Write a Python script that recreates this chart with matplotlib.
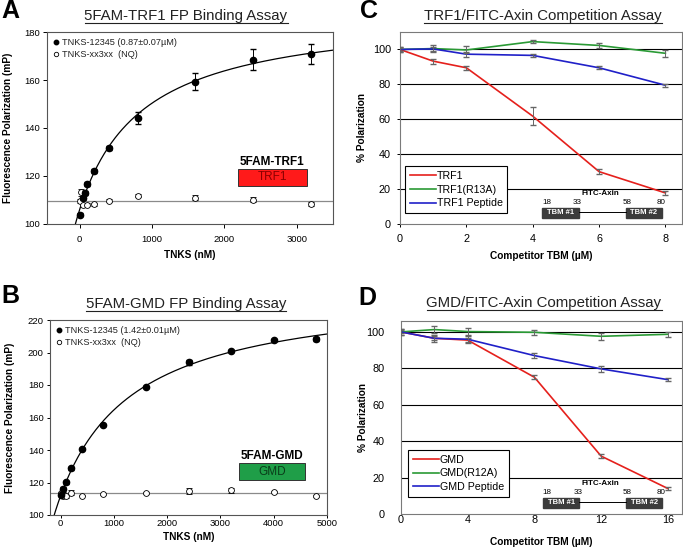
import matplotlib

matplotlib.use("Agg")

import matplotlib.pyplot as plt  # noqa: E402
import numpy as np  # noqa: E402
from matplotlib.lines import Line2D  # noqa: E402
from matplotlib.patches import Rectangle  # noqa: E402

plt.rcParams["font.family"] = ["Liberation Sans", "DejaVu Sans"]

W, H = 683, 548

# ---------------------------------------------------------------------------
# Data
# ---------------------------------------------------------------------------
# Panel A: 5FAM-TRF1 FP binding
A_BIND_X = [0, 50, 75, 100, 200, 400, 800, 1600, 2400, 3200]
A_BIND_Y = [103.8, 111.0, 112.8, 116.7, 122.0, 131.6, 144.0, 159.3, 168.5, 170.8]
A_BIND_ERR = [0.6, 0.8, 0.8, 0.8, 0.8, 0.8, 2.5, 3.5, 4.3, 4.2]
A_NQ_X = [0, 25, 50, 100, 200, 400, 800, 1600, 2400, 3200]
A_NQ_Y = [109.6, 113.2, 107.9, 108.0, 108.2, 109.7, 111.8, 111.0, 110.2, 108.3]
A_NQ_ERR = [0.8, 1.5, 0.6, 0.6, 0.6, 0.6, 0.6, 1.0, 1.0, 1.0]
A_KD_NM = 870
A_NQ_LEVEL = 109.7

# Panel B: 5FAM-GMD FP binding
B_BIND_X = [0, 50, 100, 200, 400, 800, 1600, 2400, 3200, 4000, 4800]
B_BIND_Y = [112.3, 115.7, 120.1, 128.8, 140.5, 155.5, 178.8, 194.0, 201.0, 207.8, 208.2]
B_BIND_ERR = [0.8, 1.5, 0.8, 0.8, 0.8, 0.8, 0.8, 1.5, 0.8, 0.8, 1.2]
B_NQ_X = [0, 50, 100, 200, 400, 800, 1600, 2400, 3200, 4000, 4800]
B_NQ_Y = [113.5, 112.0, 111.7, 113.7, 112.0, 113.2, 113.5, 115.0, 115.3, 114.3, 111.7]
B_NQ_ERR = [0.8, 0.8, 1.5, 1.5, 0.6, 0.6, 0.6, 1.8, 1.5, 0.6, 0.6]
B_KD_NM = 1420
B_NQ_LEVEL = 113.5

# Panel C: TRF1 / FITC-Axin competition
C_X = [0, 1, 2, 4, 6, 8]
C_TRF1 = [100, 93.3, 89.5, 61.8, 30.0, 17.8]
C_TRF1_ERR = [0.8, 1.5, 1.0, 5.0, 1.5, 1.0]
C_R13A = [100, 100.5, 99.7, 104.5, 102.3, 97.8]
C_R13A_ERR = [1.5, 2.0, 2.0, 1.0, 1.5, 2.0]
C_PEP = [100, 100.3, 97.3, 96.6, 89.5, 79.5]
C_PEP_ERR = [1.5, 1.0, 1.5, 0.8, 0.8, 0.8]

# Panel D: GMD / FITC-Axin competition
D_X = [0, 2, 4, 8, 12, 16]
D_GMD = [100, 96.5, 95.5, 75.1, 31.8, 14.0]
D_GMD_ERR = [0.8, 1.0, 1.0, 1.2, 1.2, 0.6]
D_R12A = [100, 101.3, 100.2, 99.8, 97.6, 98.7]
D_R12A_ERR = [1.5, 2.0, 2.0, 1.5, 2.0, 1.5]
D_PEP = [100, 96.5, 96.0, 87.0, 79.7, 73.8]
D_PEP_ERR = [1.5, 2.0, 2.0, 1.5, 1.5, 1.0]

AXIN_RESIDUES = ["18", "33", "58", "80"]

RED = "#e5201c"
GREEN = "#2a9a35"
BLUE = "#2020c8"


def px_axes(fig, l, t, r, b):
    return fig.add_axes([l / W, 1 - b / H, (r - l) / W, (b - t) / H])


def hyperbola_fit(x, y, kd):
    # one-site binding with fixed Kd: y = base + bmax * x / (kd + x)
    x = np.asarray(x, float)
    f = x / (kd + x)
    A = np.column_stack([np.ones_like(f), f])
    base, bmax = np.linalg.lstsq(A, np.asarray(y, float), rcond=None)[0]
    return base, bmax


def binding_panel(ax, bx, by, be, nx, ny, ne, kd, kd_label, nq_level,
                  xlim, ylim, xticks, yticks, tag, box_color, box_text_color,
                  box_x, box_y):
    base, bmax = hyperbola_fit(bx, by, kd)
    xs = np.linspace(xlim[0], xlim[1], 400)
    ax.plot(xs, base + bmax * xs / (kd + xs), color="black", lw=0.9, zorder=2)
    ax.axhline(nq_level, color="#8a8a8a", lw=0.9, zorder=1)
    ax.errorbar(nx, ny, yerr=ne, fmt="o", ms=4.2, mfc="white", mec="black",
                mew=0.6, ecolor="black", elinewidth=0.6, capsize=2, zorder=3)
    ax.errorbar(bx, by, yerr=be, fmt="o", ms=4.5, mfc="black", mec="black",
                ecolor="black", elinewidth=0.7, capsize=2, zorder=4)
    ax.set_xlim(*xlim)
    ax.set_ylim(*ylim)
    ax.set_xticks(xticks)
    ax.set_yticks(yticks)
    for s in ax.spines.values():
        s.set_color("#555555")
        s.set_linewidth(0.8)
    handles = [
        Line2D([], [], ls="none", marker="o", ms=3.2, mfc="black", mec="black"),
        Line2D([], [], ls="none", marker="o", ms=3.2, mfc="white", mec="black",
               mew=0.6),
    ]
    labels = [f"TNKS-12345 ({kd_label}\u00b5M)", "TNKS-xx3xx  (NQ)"]
    leg = ax.legend(handles, labels, loc="upper left", frameon=False,
                    fontsize=6.6, handlelength=0.5, handletextpad=0.4,
                    labelspacing=0.25, borderaxespad=0.3)
    for t in leg.get_texts():
        t.set_color("#222222")
    # probe label box
    ax.text(box_x + 0.12, box_y + 0.125, f"5FAM-{tag}", transform=ax.transAxes,
            ha="center", va="center", fontsize=8.5, fontweight="bold")
    ax.add_patch(Rectangle((box_x, box_y), 0.24, 0.085, transform=ax.transAxes,
                           facecolor=box_color, edgecolor="#333333", lw=0.7))
    ax.text(box_x + 0.12, box_y + 0.043, tag, transform=ax.transAxes,
            ha="center", va="center", fontsize=8.5, color=box_text_color)


def competition_panel(ax, x, series, xlim, ylim, xticks, legend_anchor):
    for y, e, color, label in series:
        ax.plot(x, y, color=color, lw=1.2, label=label, zorder=3)
        ax.errorbar(x, y, yerr=e, fmt="none", ecolor="#666666",
                    elinewidth=0.7, capsize=2.2, zorder=4)
    ax.set_xlim(*xlim)
    ax.set_ylim(*ylim)
    ax.set_xticks(xticks)
    ax.set_yticks(range(0, 101, 20))
    for yv in range(20, 101, 20):
        ax.axhline(yv, color="black", lw=0.8, zorder=1)
    for s in ax.spines.values():
        s.set_color("#7a7a7a")
        s.set_linewidth(0.8)
    leg = ax.legend(loc="lower left", bbox_to_anchor=legend_anchor,
                    borderaxespad=0, fontsize=7.7, handlelength=2.4,
                    handletextpad=0.1, labelspacing=0.35, fancybox=False,
                    framealpha=1, edgecolor="black", borderpad=0.45)
    leg.get_frame().set_linewidth(0.8)
    leg.set_zorder(5)
    # FITC-Axin construct diagram
    tr = ax.transAxes
    for x0, x1 in [(0.505, 0.635), (0.80, 0.93)]:
        ax.add_patch(Rectangle((x0, 0.033), x1 - x0, 0.05, transform=tr,
                               facecolor="#3c3c3c", edgecolor="#3c3c3c",
                               zorder=6))
    ax.add_line(Line2D([0.635, 0.80], [0.062, 0.062], transform=tr,
                       color="black", lw=0.7, zorder=6))
    ax.text(0.57, 0.058, "TBM #1", transform=tr, ha="center", va="center",
            fontsize=5.5, color="white", fontweight="bold", zorder=7)
    ax.text(0.865, 0.058, "TBM #2", transform=tr, ha="center", va="center",
            fontsize=5.5, color="white", fontweight="bold", zorder=7)
    for xp, lab in zip([0.52, 0.63, 0.805, 0.925], AXIN_RESIDUES):
        ax.text(xp, 0.112, lab, transform=tr, ha="center", va="center",
                fontsize=5.8, zorder=7)
    ax.text(0.71, 0.16, "FITC-Axin", transform=tr, ha="center", va="center",
            fontsize=5.8, fontweight="bold", zorder=7)


fig = plt.figure(figsize=(W / 100, H / 100), dpi=100)

axA = px_axes(fig, 47, 32, 333, 224)
axB = px_axes(fig, 50, 320, 327, 515)
axC = px_axes(fig, 400, 32, 682, 224)
axD = px_axes(fig, 401, 321, 682, 514)

binding_panel(axA, A_BIND_X, A_BIND_Y, A_BIND_ERR, A_NQ_X, A_NQ_Y, A_NQ_ERR,
              A_KD_NM, "0.87\u00b10.07", A_NQ_LEVEL, (-450, 3500), (100, 180),
              [0, 1000, 2000, 3000], range(100, 181, 20), "TRF1",
              "#ff1a1a", "#8b0000", 0.668, 0.2)
binding_panel(axB, B_BIND_X, B_BIND_Y, B_BIND_ERR, B_NQ_X, B_NQ_Y, B_NQ_ERR,
              B_KD_NM, "1.42\u00b10.01", B_NQ_LEVEL, (-200, 5000), (100, 220),
              range(0, 5001, 1000), range(100, 221, 20), "GMD",
              "#1f9e48", "#0a3d1a", 0.682, 0.18)

competition_panel(axC, C_X, [(C_TRF1, C_TRF1_ERR, RED, "TRF1"),
                             (C_R13A, C_R13A_ERR, GREEN, "TRF1(R13A)"),
                             (C_PEP, C_PEP_ERR, BLUE, "TRF1 Peptide")],
                  (0, 8.5), (0, 110), range(0, 9, 2), (0.018, 0.057))
competition_panel(axD, D_X, [(D_GMD, D_GMD_ERR, RED, "GMD"),
                             (D_R12A, D_R12A_ERR, GREEN, "GMD(R12A)"),
                             (D_PEP, D_PEP_ERR, BLUE, "GMD Peptide")],
                  (0, 16.85), (0, 106), range(0, 17, 4), (0.025, 0.088))

# ticks and axis labels
axA.tick_params(labelsize=6.8, length=3, width=0.7, pad=2)
axA.tick_params(axis="x", pad=5)
axB.tick_params(labelsize=6.8, length=2, width=0.7, pad=2.5)
axB.tick_params(axis="x", pad=1)
axC.tick_params(labelsize=7.8, length=2.5, width=0.7, pad=4)
axC.tick_params(axis="x", pad=5)
axD.tick_params(labelsize=7.8, length=0, width=0.7, pad=12)
axD.tick_params(axis="x", pad=1)

lab_kw = dict(fontsize=7.3, fontweight="bold")
for ax, xl, yl, ylx, xly in [
    (axA, "TNKS (nM)", "Fluorescence Polarization (mP)", -0.119, -0.135),
    (axB, "TNKS (nM)", "Fluorescence Polarization (mP)", -0.126, -0.087),
    (axC, "Competitor TBM (\u00b5M)", "% Polarization", -0.117, -0.14),
    (axD, "Competitor TBM (\u00b5M)", "% Polarization", -0.117, -0.119),
]:
    ax.set_xlabel(xl, **lab_kw)
    ax.set_ylabel(yl, **lab_kw)
    ax.yaxis.set_label_coords(ylx, 0.5)
    ax.xaxis.set_label_coords(0.5, xly)

# panel letters
for x, y, s in [(1, 18, "A"), (360, 18, "C"), (1, 303, "B"), (358, 305, "D")]:
    fig.text(x / W, 1 - y / H, s, fontsize=18, fontweight="bold",
             va="baseline", ha="left")

# underlined titles
titles = []
for x, y, s in [(186, 16, "5FAM-TRF1 FP Binding Assay"),
                (543, 16, "TRF1/FITC-Axin Competition Assay"),
                (186, 304, "5FAM-GMD FP Binding Assay"),
                (544, 303, "GMD/FITC-Axin Competition Assay")]:
    titles.append(fig.text(x / W, 1 - y / H, s, fontsize=10.8, ha="center",
                           va="center", color="#222222"))
fig.canvas.draw()
renderer = fig.canvas.get_renderer()
for t in titles:
    bb = t.get_window_extent(renderer)
    yline = (bb.y0 + 0.5) / H
    fig.add_artist(Line2D([bb.x0 / W, bb.x1 / W], [yline, yline],
                          color="#222222", lw=0.8))

fig.savefig("out.png", dpi=100)
